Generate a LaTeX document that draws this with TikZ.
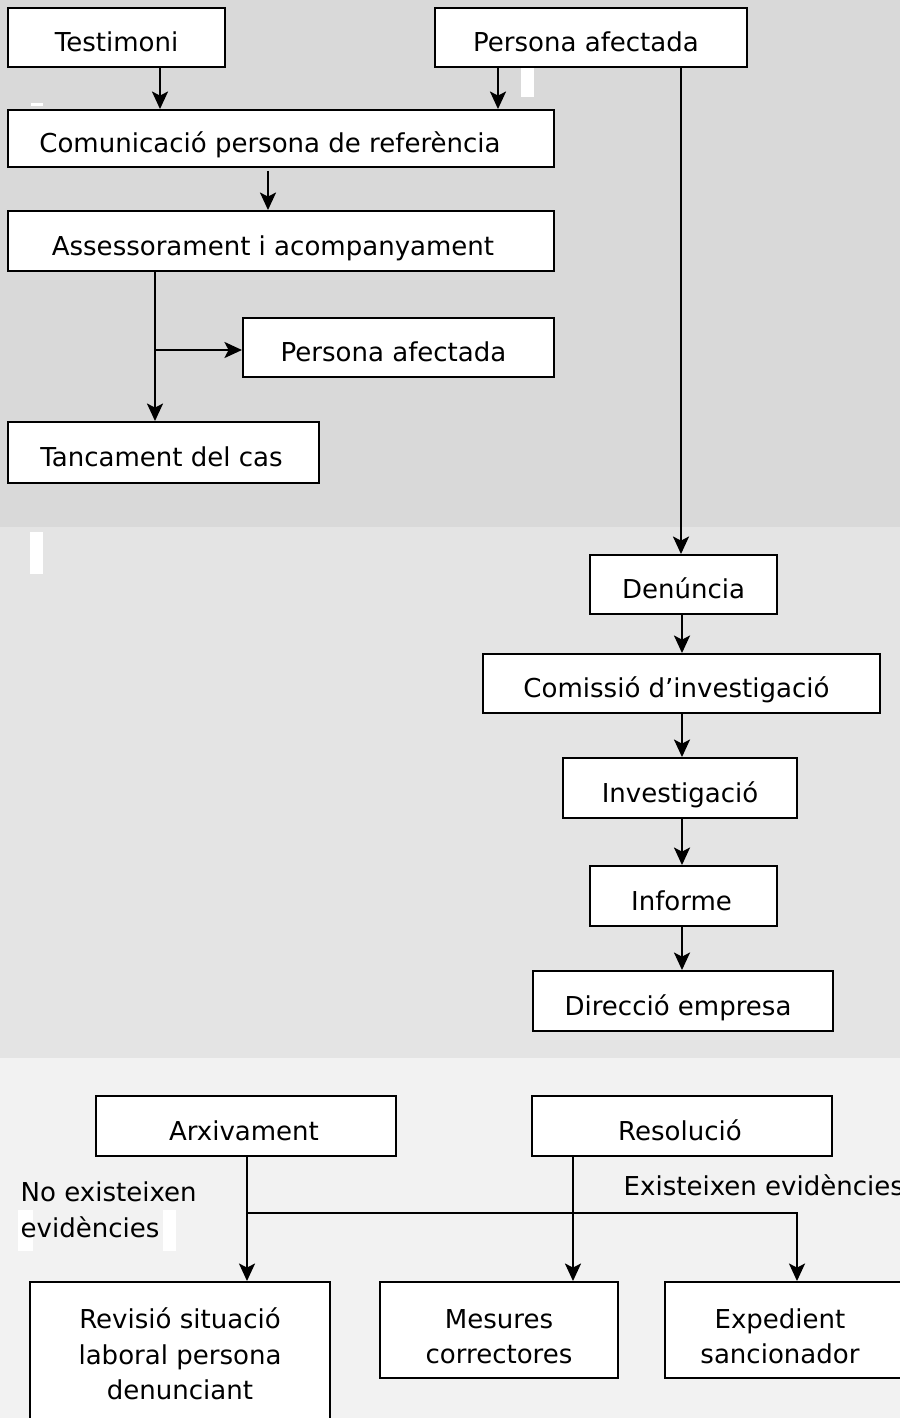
\documentclass[tikz,border=0pt]{standalone}
\usepackage{fontspec}
\setmainfont{DejaVu Sans}
\usetikzlibrary{arrows.meta}

\definecolor{bandA}{HTML}{D9D9D9}
\definecolor{bandB}{HTML}{E4E4E4}
\definecolor{bandC}{HTML}{F2F2F2}

\tikzset{
    box/.style={draw, fill=white, line width=0.55pt, inner sep=0pt,
        text height=8.2pt, text depth=0pt, font=\fontsize{7.4}{10.1}\selectfont},
    tallbox/.style={draw, fill=white, line width=0.55pt, inner sep=0pt,
        font=\fontsize{7.4}{10.1}\selectfont},
    pad/.style={execute at end node={\hspace*{#1}}},
    arr/.style={-{Stealth[length=5pt, width=4.6pt, inset=1.2pt]}, line width=0.4pt},
    lbl/.style={inner sep=0pt, anchor=west, align=left, font=\fontsize{7.4}{10.1}\selectfont},
}
\newcommand{\lines}[2][0pt]{\raisebox{-#1}[\height][\depth]{\begin{tabular}{@{}c@{}}#2\end{tabular}}}

\begin{document}
\begin{tikzpicture}[x=0.01cm, y=-0.01cm] % protocol flow, three phases
    \useasboundingbox (0,0) rectangle (900,1418);
    \clip (0,0) rectangle (900,1418);
    \fill[bandA] (0,0) rectangle (900,527);
    \fill[bandB] (0,527) rectangle (900,1058);
    \fill[bandC] (0,1058) rectangle (900,1418);
    \fill[white] (521,68) rectangle (534,97);
    \fill[white] (31,103) rectangle (43,106);
    \fill[white] (30,532) rectangle (43,574);
    \fill[white] (18,1210) rectangle (33,1251);
    \fill[white] (163,1210) rectangle (176,1251);

    \node[box, minimum width=2.17cm, minimum height=0.59cm] (testimoni) at (116.5,37.5) {Testimoni};
    \node[box, pad=0.1cm, minimum width=3.12cm, minimum height=0.59cm] (persona) at (591,37.5) {Persona afectada};
    \node[box, pad=0.22cm, minimum width=5.46cm, minimum height=0.57cm] (comunicacio) at (281,138.5) {Comunicació persona de referència};
    \node[box, pad=0.16cm, minimum width=5.46cm, minimum height=0.60cm] (assessorament) at (281,241) {Assessorament i acompanyament};
    \node[box, pad=0.1cm, minimum width=3.11cm, minimum height=0.59cm] (afectada) at (398.5,347.5) {Persona afectada};
    \node[box, pad=0.04cm, minimum width=3.11cm, minimum height=0.61cm] (tancament) at (163.5,452.5) {Tancament del cas};

    \node[box, minimum width=1.87cm, minimum height=0.59cm] (denuncia) at (683.5,584.5) {Denúncia};
    \node[box, pad=0.1cm, minimum width=3.97cm, minimum height=0.59cm] (comissio) at (681.5,683.5) {Comissió d’investigació};
    \node[box, minimum width=2.34cm, minimum height=0.60cm] (investigacio) at (680,788) {Investigació};
    \node[box, pad=0.04cm, minimum width=1.87cm, minimum height=0.60cm] (informe) at (683.5,896) {Informe};
    \node[box, pad=0.1cm, minimum width=3.00cm, minimum height=0.60cm] (direccio) at (683,1001) {Direcció empresa};

    \node[box, pad=0.04cm, minimum width=3.00cm, minimum height=0.60cm] (arxivament) at (246,1126) {Arxivament};
    \node[box, pad=0.04cm, minimum width=3.00cm, minimum height=0.60cm] (resolucio) at (682,1126) {Resolució};
    \node[tallbox, minimum width=3.00cm, minimum height=1.44cm] (revisio) at (180,1354) {\lines[0.03cm]{Revisió situació\\laboral persona\\denunciant}};
    \node[tallbox, minimum width=2.38cm, minimum height=0.96cm] (mesures) at (499,1330) {\lines[0.09cm]{Mesures\\correctores}};
    \node[tallbox, minimum width=2.60cm, minimum height=0.96cm] (expedient) at (795,1330) {\lines[0.09cm]{Expedient\\sancionador}\hspace*{0.3cm}};

    \node[lbl] (noevid) at (20,1210) {No existeixen\\evidències};
    \node[lbl] (evid) at (623,1185) {Existeixen evidències};

    \draw[arr] (testimoni.south -| 160,0) -- (comunicacio.north -| 160,0);
    \draw[arr] (persona.south -| 498,0) -- (comunicacio.north -| 498,0);
    \draw[arr] ([yshift=-0.03cm]comunicacio.south -| 268,0) -- (assessorament.north -| 268,0);
    \draw[arr] (assessorament.south -| 155,0) -- (tancament.north -| 155,0);
    \coordinate (branca) at (155,350);
    \draw[arr] (branca) -- (branca -| afectada.west);
    \draw[arr] (persona.south -| 681,0) -- (denuncia.north -| 681,0);
    \foreach \a/\b in {denuncia/comissio, comissio/investigacio, investigacio/informe, informe/direccio}
        \draw[arr] (\a.south -| 682,0) -- (\b.north -| 682,0);

    \draw[arr] (arxivament.south -| 247,0) -- (revisio.north -| 247,0);
    \draw[arr] (resolucio.south -| 573,0) -- (mesures.north -| 573,0);
    \coordinate (partida) at (247,1213);
    \draw[arr] (partida) -- (797,1213) -- (expedient.north -| 797,0);
\end{tikzpicture}
\end{document}
